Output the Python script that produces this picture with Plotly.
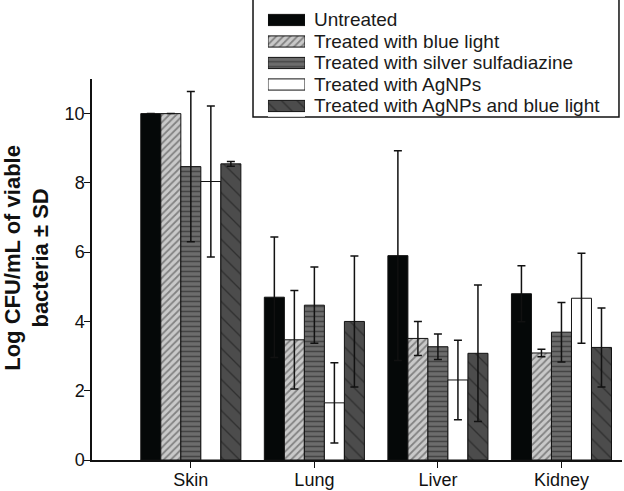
import plotly.graph_objects as go

categories = ["Skin", "Lung", "Liver", "Kidney"]
series_names = [
    "Untreated",
    "Treated with blue light",
    "Treated with silver sulfadiazine",
    "Treated with AgNPs",
    "Treated with AgNPs and blue light",
]
untreated = [10.0, 4.70, 5.90, 4.80]
untreated_sd = [0.0, 1.74, 3.03, 0.81]
blue_light = [10.0, 3.47, 3.51, 3.09]
blue_light_sd = [0.0, 1.42, 0.49, 0.11]
silver = [8.47, 4.47, 3.27, 3.69]
silver_sd = [2.17, 1.10, 0.37, 0.86]
agnps = [8.04, 1.65, 2.31, 4.67]
agnps_sd = [2.18, 1.16, 1.15, 1.30]
agnps_blue = [8.55, 4.00, 3.08, 3.25]
agnps_blue_sd = [0.07, 1.89, 1.97, 1.14]
y_title = "<b>Log CFU/mL of viable<br>bacteria ± SD</b>"

values = [untreated, blue_light, silver, agnps, agnps_blue]
sds = [untreated_sd, blue_light_sd, silver_sd, agnps_sd, agnps_blue_sd]
styles = [
    dict(color="#050808", pattern=dict(shape="")),
    dict(color="#c9c9c9", pattern=dict(shape="/", fgcolor="#3a3a3a", size=5, solidity=0.35)),
    dict(color="#6c6c6c", pattern=dict(shape="-", fgcolor="#1a1a1a", size=5, solidity=0.3)),
    dict(color="#ffffff", pattern=dict(shape="")),
    dict(color="#4c4c4c", pattern=dict(shape="\\", fgcolor="#111111", size=11, solidity=0.12)),
]

x = list(range(len(categories)))
fig = go.Figure()
for name, vals, sd, st in zip(series_names, values, sds, styles):
    fig.add_trace(go.Bar(
        x=x, y=vals, name=name, showlegend=False,
        marker=dict(color=st["color"], pattern=st["pattern"],
                    line=dict(color="#111111", width=1)),
        error_y=dict(type="data", array=sd, visible=True, color="#111111",
                     thickness=1.5, width=4),
        xaxis="x", yaxis="y",
    ))

# legend drawn on its own small axes
for name, st in zip(series_names, styles):
    fig.add_trace(go.Bar(
        x=[1], y=[name], orientation="h", width=0.52, showlegend=False,
        marker=dict(color=st["color"], pattern=st["pattern"],
                    line=dict(color="#111111", width=1)),
        xaxis="x2", yaxis="y2", hoverinfo="skip",
    ))

font = "Liberation Sans, Arial, sans-serif"
for name in series_names:
    fig.add_annotation(
        xref="paper", yref="y2", x=0.4151, y=name, text=name,
        xanchor="left", yanchor="middle", showarrow=False,
        font=dict(size=19, family=font, color="#1a1a1a"),
    )

fig.add_annotation(
    xref="paper", yref="paper", x=-0.1240, y=0.4402, text=y_title,
    textangle=-90, xanchor="center", yanchor="middle", showarrow=False,
    font=dict(size=22, family=font, color="#111111"),
)

fig.add_shape(
    type="rect", xref="paper", yref="paper",
    x0=0.3038, x1=0.9943, y0=0.7457, y1=1.006,
    line=dict(color="#111111", width=1.5), fillcolor="white", layer="below",
)

fig.update_layout(
    width=624, height=491,
    margin=dict(l=92, r=2, t=0, b=31, autoexpand=False),
    plot_bgcolor="white", paper_bgcolor="white",
    barmode="group", bargap=0.19, bargroupgap=0,
    font=dict(family=font, size=18, color="#111111"),
    showlegend=False,
    xaxis=dict(
        domain=[0, 1], anchor="y",
        range=[-0.80, 3.49], tickvals=x, ticktext=categories,
        showline=True, linecolor="#111111", linewidth=1.5,
        ticks="outside", ticklen=6, tickcolor="#111111",
        showgrid=False, zeroline=False,
        tickfont=dict(size=18), ticklabelstandoff=-3,
    ),
    yaxis=dict(
        domain=[0, 0.8283], anchor="x",
        range=[0, 11], tickvals=[0, 2, 4, 6, 8, 10],
        showline=True, linecolor="#111111", linewidth=1.5,
        ticks="outside", ticklen=6, tickcolor="#111111",
        showgrid=False, zeroline=False,
        tickfont=dict(size=18), ticklabelstandoff=-4,
    ),
    xaxis2=dict(domain=[0.332, 0.4019], anchor="y2", range=[0, 1],
                visible=False, fixedrange=True),
    yaxis2=dict(domain=[0.7462, 0.9799], anchor="x2",
                categoryorder="array", categoryarray=series_names,
                range=[4.5, -0.5], visible=False, fixedrange=True),
)

fig.write_html("out.html", config={"displayModeBar": False},
               post_script="document.body.style.margin='0px';")
